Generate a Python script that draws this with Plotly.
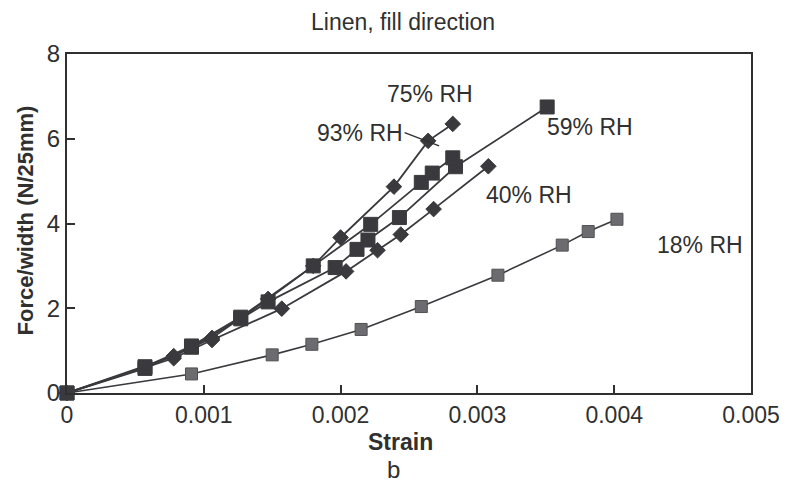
import plotly.graph_objects as go

# ---- data ----
strain_18 = [0, 0.00091, 0.00150, 0.00179, 0.00215, 0.00259, 0.00315, 0.00362, 0.00381, 0.00402]
force_18 = [0, 0.45, 0.90, 1.15, 1.50, 2.04, 2.78, 3.49, 3.81, 4.10]

strain_40 = [0, 0.00078, 0.00106, 0.00157, 0.00204, 0.00227, 0.00244, 0.00268, 0.00308]
force_40 = [0, 0.82, 1.25, 1.99, 2.87, 3.37, 3.74, 4.34, 5.35]

strain_59 = [0, 0.00057, 0.00091, 0.00127, 0.00147, 0.00196, 0.00212, 0.00220, 0.00243, 0.00284, 0.00351]
force_59 = [0, 0.58, 1.08, 1.75, 2.15, 2.96, 3.39, 3.61, 4.14, 5.34, 6.75]

strain_75 = [0, 0.00078, 0.00106, 0.00147, 0.00180, 0.00200, 0.00239, 0.00264, 0.00282]
force_75 = [0, 0.87, 1.30, 2.22, 3.00, 3.67, 4.87, 5.95, 6.35]

strain_93 = [0, 0.00057, 0.00091, 0.00127, 0.00180, 0.00222, 0.00259, 0.00267, 0.00282]
force_93 = [0, 0.62, 1.11, 1.79, 3.00, 3.98, 4.97, 5.19, 5.55]

x_ticks = [0, 0.001, 0.002, 0.003, 0.004, 0.005]
x_tick_labels = ["0", "0.001", "0.002", "0.003", "0.004", "0.005"]
y_ticks = [0, 2, 4, 6, 8]
y_tick_labels = ["0", "2", "4", "6", "8"]

labels = ["18% RH", "40% RH", "59% RH", "75% RH", "93% RH"]

DARK = "#3a3a3e"
LIGHT = "#6c6c70"
TXT = "#303030"
FONT = "Liberation Sans, Arial, sans-serif"

fig = go.Figure()

def add(xs, ys, name, symbol, size, color, lw, edge):
    fig.add_trace(go.Scatter(
        x=xs, y=ys, name=name, mode="lines+markers",
        line=dict(color=DARK, width=lw),
        marker=dict(symbol=symbol, size=size, color=color,
                    line=dict(color=edge, width=1)),
        cliponaxis=False, showlegend=False,
    ))

add(strain_18, force_18, labels[0], "square", 12, LIGHT, 1.6, "#505054")
add(strain_40, force_40, labels[1], "diamond", 12, DARK, 1.8, DARK)
add(strain_59, force_59, labels[2], "square", 14, DARK, 1.8, DARK)
add(strain_75, force_75, labels[3], "diamond", 12, DARK, 1.8, DARK)
add(strain_93, force_93, labels[4], "square", 14, DARK, 1.8, DARK)

lab_font = dict(family=FONT, size=23, color=TXT)

# curve labels
fig.add_annotation(x=0.00265, y=7.06, text=labels[3], showarrow=False, font=lab_font)
fig.add_annotation(x=0.00382, y=6.28, text=labels[2], showarrow=False, font=lab_font)
fig.add_annotation(x=0.00338, y=4.67, text=labels[1], showarrow=False, font=lab_font)
fig.add_annotation(x=0.00463, y=3.49, text=labels[0], showarrow=False, font=lab_font)
fig.add_annotation(x=0.00214, y=6.14, text=labels[4], showarrow=False, font=lab_font)
# pointer from "93% RH" to its curve
fig.add_annotation(x=0.00272, y=5.83, text="", showarrow=True,
                   ax=-36, ay=-14, arrowhead=0, arrowwidth=1.4,
                   arrowcolor=TXT, standoff=0, startstandoff=0)

# the page body adds an 8px margin, so the figure is 8px smaller than the window
fig.update_layout(
    width=784, height=479,
    margin=dict(l=59, r=37, t=46, b=94),
    paper_bgcolor="white", plot_bgcolor="white",
    font=dict(family=FONT, size=24, color=TXT),
)

fig.update_xaxes(
    range=[0, 0.005], tickvals=x_ticks, ticktext=x_tick_labels,
    ticks="inside", ticklen=8, tickwidth=1.6, tickcolor=TXT,
    showline=True, linecolor=TXT, linewidth=2, mirror=True,
    showgrid=False, zeroline=False,
    tickfont=dict(family=FONT, size=23, color=TXT),
)
fig.update_yaxes(
    range=[0, 8], tickvals=y_ticks, ticktext=y_tick_labels,
    ticks="inside", ticklen=8, tickwidth=1.6, tickcolor=TXT,
    showline=True, linecolor=TXT, linewidth=2, mirror=True,
    showgrid=False, zeroline=False,
    tickfont=dict(family=FONT, size=24, color=TXT),
)

# title, axis titles and panel letter placed in paper coordinates
fig.add_annotation(x=0.491, y=1.094, xref="paper", yref="paper",
                   text="Linen, fill direction", showarrow=False,
                   xanchor="center", yanchor="middle",
                   font=dict(family=FONT, size=23, color=TXT))
fig.add_annotation(x=0.488, y=-0.145, xref="paper", yref="paper",
                   text="<b>Strain</b>", showarrow=False,
                   xanchor="center", yanchor="middle",
                   font=dict(family=FONT, size=23, color=TXT))
fig.add_annotation(x=-0.061, y=0.51, xref="paper", yref="paper",
                   text="<b>Force/width (N/25mm)</b>", showarrow=False,
                   textangle=-90, xanchor="center", yanchor="middle",
                   font=dict(family=FONT, size=22, color=TXT))
fig.add_annotation(x=0.478, y=-0.227, xref="paper", yref="paper",
                   text="b", showarrow=False,
                   xanchor="center", yanchor="middle",
                   font=dict(family=FONT, size=24, color=TXT))

fig.write_html("out.html")
